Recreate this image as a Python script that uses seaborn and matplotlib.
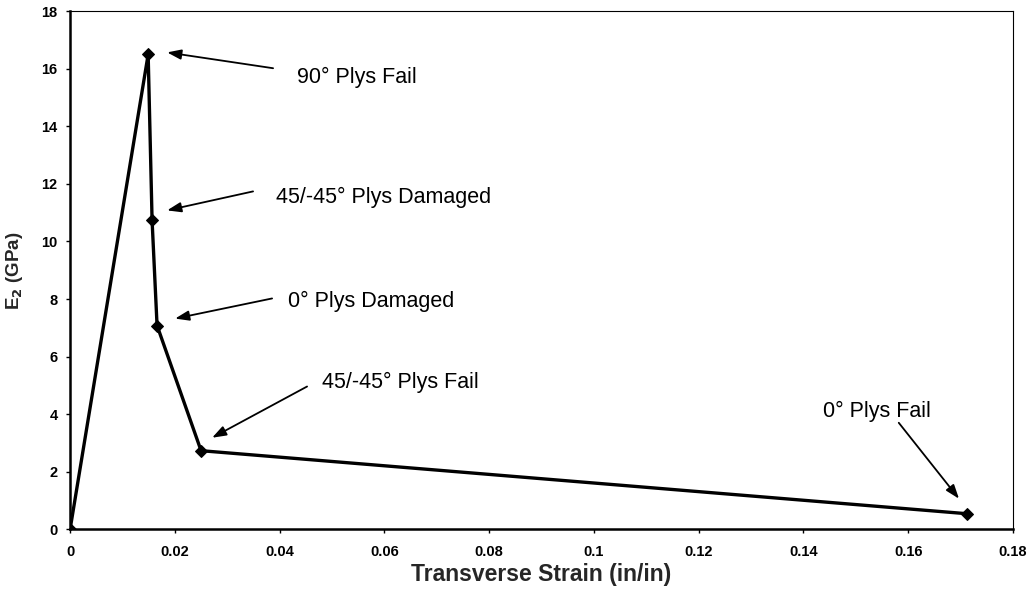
import matplotlib
matplotlib.use("Agg")
import matplotlib.pyplot as plt
import seaborn as sns
import pandas as pd

strain = [0.0, 0.0149, 0.01565, 0.0166, 0.0250, 0.1712]
modulus = [0.0, 16.50, 10.73, 7.08, 2.73, 0.54]

labels = ["90° Plys Fail", "45/-45° Plys Damaged", "0° Plys Damaged",
          "45/-45° Plys Fail", "0° Plys Fail"]
arrow_tail = [(0.03875, 16.02), (0.03493, 11.74), (0.03856, 8.02), (0.04524, 4.96), (0.1582, 3.70)]
arrow_head = [(0.01852, 16.57), (0.01852, 11.08), (0.02004, 7.32), (0.02711, 3.18), (0.1697, 1.06)]
text_pos = [(0.0433, 15.70), (0.0393, 11.53), (0.0416, 7.91), (0.0481, 5.10), (0.1437, 4.09)]

sns.set_theme(style="white")
plt.rcParams['font.family'] = ['Liberation Sans', 'DejaVu Sans']

fig = plt.figure(figsize=(10.31, 5.92), dpi=100)
ax = fig.add_axes([0.068, 0.106, 0.9145, 0.875])

df = pd.DataFrame({"strain": strain, "modulus": modulus})
sns.lineplot(data=df, x="strain", y="modulus", ax=ax, color="black", linewidth=2.4,
             marker="D", markersize=6.5, markeredgecolor="black", sort=False, estimator=None)

for lab, (tx, ty), (hx, hy), (lx, ly) in zip(labels, arrow_tail, arrow_head, text_pos):
    ax.annotate("", xy=(hx, hy), xytext=(tx, ty),
                arrowprops=dict(arrowstyle="-|>,head_length=0.7,head_width=0.25",
                                color="black", lw=1.3, shrinkA=0, shrinkB=0))
    ax.text(lx, ly, lab, fontsize=15.5, ha="left", va="center", color="black")

ax.set_xlim(0, 0.18)
ax.set_ylim(0, 18)
ax.set_xticks([0, 0.02, 0.04, 0.06, 0.08, 0.1, 0.12, 0.14, 0.16, 0.18])
ax.set_xticklabels(["0", "0.02", "0.04", "0.06", "0.08", "0.1", "0.12", "0.14", "0.16", "0.18"])
ax.set_yticks(range(0, 19, 2))
ax.tick_params(axis="both", labelsize=10.5, length=3, width=1, direction="out",
               bottom=True, left=True, colors="black")
for t in ax.get_xticklabels() + ax.get_yticklabels():
    t.set_fontweight("bold")
ax.tick_params(axis="x", pad=8)
ax.tick_params(axis="y", pad=6)
ax.set_xlabel("Transverse Strain (in/in)", fontsize=16.5, fontweight="bold", labelpad=3)
ax.set_ylabel("E$_\\mathbf{2}$ (GPa)", fontsize=13.5, fontweight="bold", labelpad=12)

for s in ["left", "bottom"]:
    ax.spines[s].set_color("black")
    ax.spines[s].set_linewidth(1.8)
for s in ["top", "right"]:
    ax.spines[s].set_color("black")
    ax.spines[s].set_linewidth(0.8)

fig.savefig("out.png", dpi=100)
